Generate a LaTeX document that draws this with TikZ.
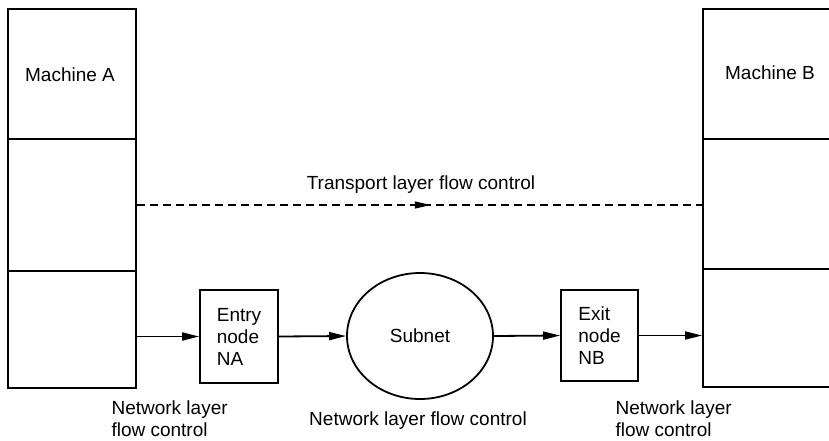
\documentclass[tikz,border=0pt]{standalone}
\usepackage{fontspec}
\setmainfont{Liberation Sans}
\usetikzlibrary{arrows.meta,decorations.markings,shapes.geometric}

\tikzset{
  layerbox/.style={draw, line width=1.8pt, minimum width=#1, inner sep=0pt},
  relay/.style={draw, line width=1.8pt, inner sep=0pt, align=left},
  flow/.style={line width=1.8pt, -{Triangle[length=17pt,width=8pt]}},
  tpflow/.style={line width=1.2pt, dash pattern=on 8pt off 5pt,
    postaction={decorate},
    decoration={markings, mark=at position 0.52 with
      {\arrow{Triangle[length=16pt,width=7pt]}}}},
  caption/.style={align=left, font=\fontsize{19}{22}\selectfont},
}

\begin{document}
\begin{tikzpicture}[x=1pt, y=-1pt, font=\fontsize{19}{22}\selectfont]
\useasboundingbox (0,0) rectangle (829,440);

% Machine A: three stacked layers
\node[layerbox=128pt, minimum height=130pt] (a1) at (72,74) {};
\node[layerbox=128pt, minimum height=132pt] (a2) at (72,205) {};
\node[layerbox=128pt, minimum height=117pt] (a3) at (72,329.5) {};
\node (la) at (70,75) {Machine A};

% Machine B: three stacked layers, running off the right edge
\node[layerbox=134pt, minimum height=130pt] (b1) at (770,74) {};
\node[layerbox=134pt, minimum height=130pt] (b2) at (770,204) {};
\node[layerbox=134pt, minimum height=118pt] (b3) at (770,328) {};
\node (lb) at (770,73) {Machine B};

% Relay nodes and subnet
\node[relay, minimum width=78pt, minimum height=93pt] (na) at (239,336.5) {Entry\\node\\NA};
\node[draw, ellipse, line width=1.8pt, minimum width=146pt, minimum height=126pt, inner sep=0pt] (sub) at (420,336) {Subnet};
\node[relay, minimum width=77pt, minimum height=91pt] (nb) at (599.5,335.5) {Exit\\node\\NB};

% Network layer path
\draw[flow] (a3.east |- na.west) -- (na.west);
\draw[flow] (na.east) -- (sub.west);
\draw[flow] (sub.east) -- (nb.west);
\draw[flow] (nb.east) -- (nb.east -| b3.west);

% Transport layer path
\draw[tpflow] (a2.east) -- (a2.east -| b2.west);
\node (tl) at (421,185) {Transport layer flow control};

% Captions
\node[caption, anchor=west] (ca) at (108,419) {Network layer\\flow control};
\node[caption] (cm) at (418,421) {Network layer flow control};
\node[caption, anchor=west] (cb) at (612,419) {Network layer\\flow control};
\end{tikzpicture}
\end{document}
